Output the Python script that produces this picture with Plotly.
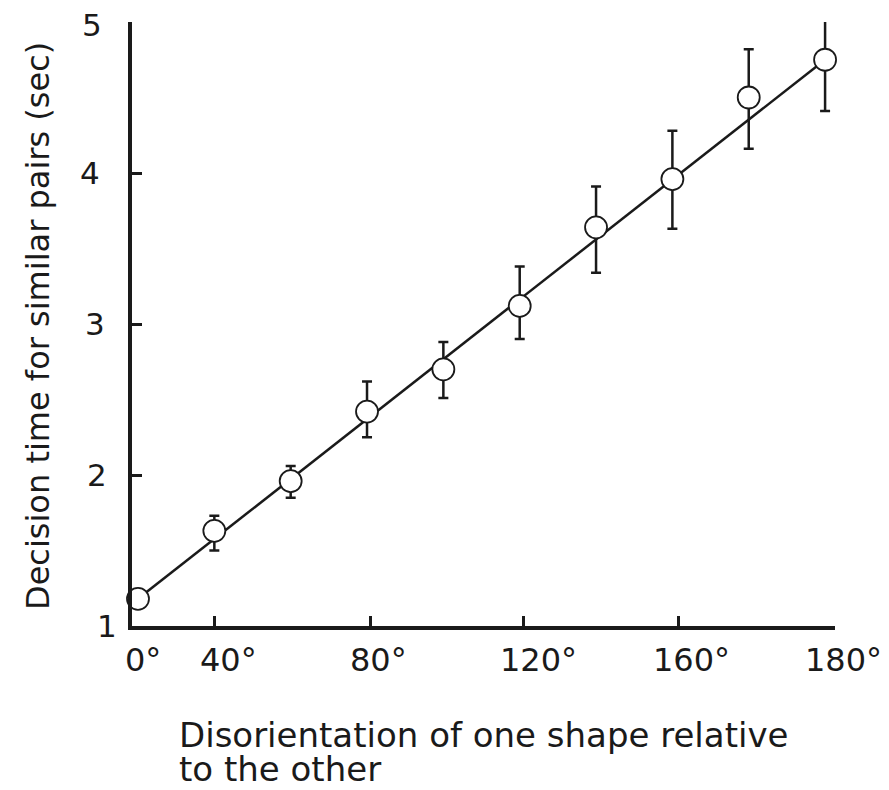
import plotly.graph_objects as go

# Data
angles = [0, 20, 40, 60, 80, 100, 120, 140, 160, 180]
decision_time = [1.18, 1.63, 1.96, 2.42, 2.70, 3.12, 3.64, 3.96, 4.50, 4.75]
err_plus = [0.00, 0.10, 0.10, 0.20, 0.18, 0.26, 0.27, 0.32, 0.32, 0.33]
err_minus = [0.00, 0.13, 0.11, 0.17, 0.19, 0.22, 0.30, 0.33, 0.34, 0.34]
fit_x = [0, 180]
fit_y = [1.18, 4.75]

tick_marks_x = [20, 61, 101, 141.5, 182.5]
x_label_pos = [1.3, 23.6, 63.1, 105, 144.9, 184.7]
x_label_text = ["0°", "40°", "80°", "120°", "160°", "180°"]
y_ticks = [1, 2, 3, 4, 5]
y_label_text = ["1", "2", "3", "4", "5"]
y_label_left = [107, 97, 95, 90, 92]  # hand-placed label centres (screen px)

FONT = "DejaVu Sans"
INK = "#1a1a1a"
OFF = 8  # page body margin

X_RANGE = [-1.57, 182.6]
Y_RANGE = [1, 5]

W, H = 889 - 2 * OFF, 790 - OFF
L, T = 124, 14
R = W - (835 - OFF)
B = H - (626 - OFF)
PW, PH = W - L - R, H - T - B


def px(screen_x):
    return (screen_x - OFF - L) / PW


def py(screen_y):
    return (H - B - (screen_y - OFF)) / PH


def xdata_to_paper(v):
    return (v - X_RANGE[0]) / (X_RANGE[1] - X_RANGE[0])


fig = go.Figure()
fig.add_trace(go.Scatter(x=fit_x, y=fit_y, mode="lines",
                         line=dict(color=INK, width=2.5), showlegend=False,
                         cliponaxis=False))
fig.add_trace(go.Scatter(
    x=angles, y=decision_time, mode="markers", showlegend=False, cliponaxis=False,
    marker=dict(symbol="circle", size=22, color="white", line=dict(color=INK, width=1.8)),
    error_y=dict(type="data", symmetric=False, array=err_plus, arrayminus=err_minus,
                 color=INK, thickness=2.5, width=5)))

annotations = []
for pos, txt in zip(x_label_pos, x_label_text):
    annotations.append(dict(text=txt, xref="paper", yref="paper", x=xdata_to_paper(pos),
                            y=py(660), xanchor="center", yanchor="middle",
                            showarrow=False, font=dict(size=32, family=FONT, color=INK)))
for val, txt, cx in zip(y_ticks, y_label_text, y_label_left):
    annotations.append(dict(text=txt, xref="paper", yref="y", x=px(cx), y=val,
                            yshift=-3 if val == 5 else 0,
                            xanchor="center", yanchor="middle", showarrow=False,
                            font=dict(size=31, family=FONT, color=INK)))
annotations += [
    dict(text="Disorientation of one shape relative",
         xref="paper", yref="paper", x=px(177), y=py(735),
         xanchor="left", yanchor="middle", align="left", showarrow=False,
         font=dict(size=34, family=FONT, color=INK)),
    dict(text="to the other",
         xref="paper", yref="paper", x=px(177), y=py(769),
         xanchor="left", yanchor="middle", align="left", showarrow=False,
         font=dict(size=34, family=FONT, color=INK)),
    dict(text="Decision time for similar pairs (sec)",
         xref="paper", yref="paper", x=px(38), y=py(326),
         xanchor="center", yanchor="middle", textangle=-90, showarrow=False,
         font=dict(size=32, family=FONT, color=INK)),
]

fig.update_layout(
    width=W, height=H,
    margin=dict(l=L, r=R, t=T, b=B),
    paper_bgcolor="white", plot_bgcolor="white",
    font=dict(family=FONT, color=INK),
    xaxis=dict(range=X_RANGE, showgrid=False, zeroline=False, showline=True,
               automargin=False,
               linecolor=INK, linewidth=4, ticks="inside", ticklen=10, tickwidth=3,
               tickcolor=INK, tickvals=tick_marks_x, showticklabels=False),
    yaxis=dict(range=Y_RANGE, showgrid=False, zeroline=False, showline=True,
               automargin=False,
               linecolor=INK, linewidth=4, ticks="inside", ticklen=10, tickwidth=3,
               tickcolor=INK, tickvals=y_ticks, showticklabels=False),
    annotations=annotations,
)

fig.write_html("out.html")
